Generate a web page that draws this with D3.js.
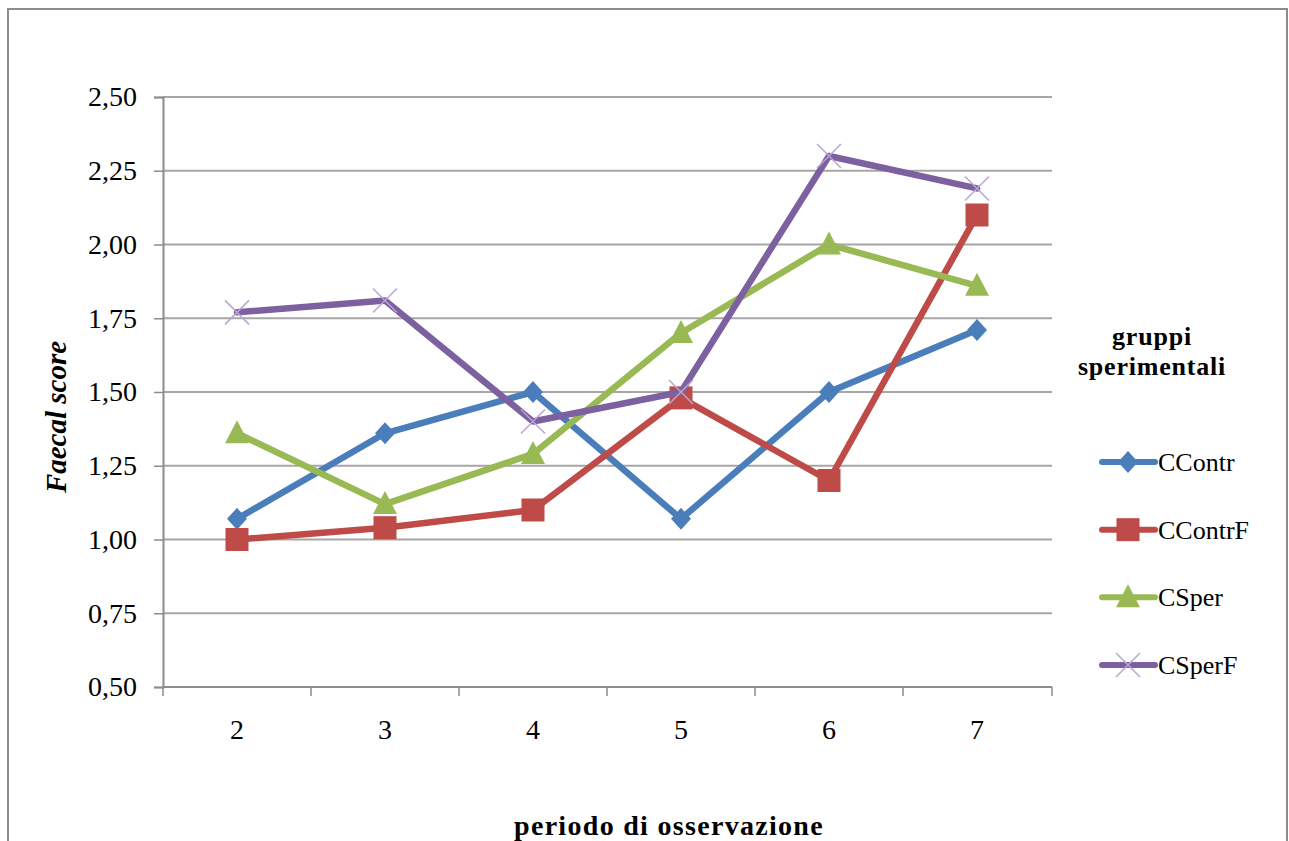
<!DOCTYPE html>
<html>
<head>
<meta charset="utf-8">
<script src="https://cdn.jsdelivr.net/npm/d3@7"></script>
<style>
  html, body { margin: 0; padding: 0; background: #fff; }
  svg { display: block; }
  text { font-family: "Liberation Serif", "DejaVu Serif", serif; fill: #000; }
</style>
</head>
<body>
<svg id="chart" width="1289" height="841"></svg>
<script>
// Observation periods
const periods = ["2", "3", "4", "5", "6", "7"];

// Faecal score per experimental group
const cContr  = [1.07, 1.36, 1.50, 1.07, 1.50, 1.71];
const cContrF = [1.00, 1.04, 1.10, 1.48, 1.20, 2.10];
const cSper   = [1.36, 1.12, 1.29, 1.70, 2.00, 1.86];
const cSperF  = [1.77, 1.81, 1.40, 1.50, 2.30, 2.19];

const seriesNames = ["CContr", "CContrF", "CSper", "CSperF"];
const yTicks = [0.50, 0.75, 1.00, 1.25, 1.50, 1.75, 2.00, 2.25, 2.50];

const series = [
  { name: seriesNames[0], values: cContr,  color: "#4A7EBB", marker: "diamond" },
  { name: seriesNames[1], values: cContrF, color: "#BE4B48", marker: "square" },
  { name: seriesNames[2], values: cSper,   color: "#98B954", marker: "triangle" },
  { name: seriesNames[3], values: cSperF,  color: "#7D60A0", marker: "cross" }
];

const svg = d3.select("#chart");
const plot = { left: 163, right: 1051, top: 97, bottom: 687 };

// Outer chart frame
svg.append("rect")
  .attr("x", 8).attr("y", 9).attr("width", 1279).attr("height", 860)
  .attr("fill", "none").attr("stroke", "#8c8c8c").attr("stroke-width", 2);

const x = d3.scaleBand().domain(periods).range([plot.left, plot.right]).padding(0);
const y = d3.scaleLinear().domain([0.5, 2.5]).range([plot.bottom, plot.top]);
const cx = p => x(p) + x.bandwidth() / 2;

const itLocale = d3.formatLocale({ decimal: ",", thousands: ".", grouping: [3], currency: ["€", ""] });
const fmt = itLocale.format(".2f");

// Horizontal gridlines
svg.append("g").selectAll("line")
  .data(yTicks.filter(t => t > 0.5))
  .join("line")
  .attr("x1", plot.left).attr("x2", plot.right + 1)
  .attr("y1", d => y(d)).attr("y2", d => y(d))
  .attr("stroke", "#a6a6a6").attr("stroke-width", 2);

// Y axis
const yAxis = svg.append("g")
  .attr("transform", `translate(${plot.left},0)`)
  .call(d3.axisLeft(y).tickValues(yTicks).tickFormat(fmt).tickSize(9).tickPadding(17));
yAxis.select(".domain").attr("stroke", "#8c8c8c").attr("stroke-width", 2);
yAxis.selectAll(".tick line").attr("stroke", "#8c8c8c").attr("stroke-width", 1.5);
yAxis.selectAll(".tick text")
  .attr("font-size", 28).attr("fill", "#000");

// X axis: line, boundary ticks, centred labels
const xAxis = svg.append("g")
  .attr("transform", `translate(0,${plot.bottom})`)
  .call(d3.axisBottom(x).tickSize(0).tickPadding(32));
xAxis.select(".domain").attr("stroke", "#8c8c8c").attr("stroke-width", 2)
  .attr("d", `M${plot.left},0H${plot.right + 1}`);
xAxis.selectAll(".tick text")
  .attr("font-size", 28).attr("fill", "#000");
const bounds = periods.map(p => x(p)).concat([plot.right + 1]);
xAxis.append("g").selectAll("line")
  .data(bounds)
  .join("line")
  .attr("x1", d => d).attr("x2", d => d)
  .attr("y1", 0).attr("y2", 9)
  .attr("stroke", "#8c8c8c").attr("stroke-width", 1.5);

// Marker drawing
function drawMarker(g, type, color, px, py) {
  if (type === "diamond") {
    g.append("path")
      .attr("d", `M${px},${py - 11}L${px + 10},${py}L${px},${py + 11}L${px - 10},${py}Z`)
      .attr("fill", color);
  } else if (type === "square") {
    g.append("rect")
      .attr("x", px - 11.5).attr("y", py - 11.5).attr("width", 23).attr("height", 23)
      .attr("fill", color);
  } else if (type === "triangle") {
    g.append("path")
      .attr("d", `M${px},${py - 13}L${px + 12},${py + 10}L${px - 12},${py + 10}Z`)
      .attr("fill", color);
  } else if (type === "cross") {
    g.append("path")
      .attr("d", `M${px - 12},${py - 12}L${px + 12},${py + 12}M${px + 12},${py - 12}L${px - 12},${py + 12}`)
      .attr("stroke", "#b7a6d3").attr("stroke-width", 1.5).attr("fill", "none");
  }
}

const line = d3.line().x((d, i) => cx(periods[i])).y(d => y(d));

// Series lines with markers
series.forEach(s => {
  const g = svg.append("g");
  g.append("path")
    .attr("d", line(s.values))
    .attr("fill", "none").attr("stroke", s.color)
    .attr("stroke-width", 6.5).attr("stroke-linejoin", "round").attr("stroke-linecap", "round");
  s.values.forEach((v, i) => drawMarker(g, s.marker, s.color, cx(periods[i]), y(v)));
});

// Legend
const legend = svg.append("g");
legend.append("text").attr("x", 1152).attr("y", 345).attr("text-anchor", "middle")
  .attr("font-size", 26).attr("font-weight", "bold").attr("letter-spacing", 0.8).text("gruppi");
legend.append("text").attr("x", 1152).attr("y", 375).attr("text-anchor", "middle")
  .attr("font-size", 26).attr("font-weight", "bold").attr("letter-spacing", 0.8).text("sperimentali");

const legendY = d3.scalePoint().domain(seriesNames).range([462, 665]);
series.forEach(s => {
  const ly = legendY(s.name);
  const g = legend.append("g");
  g.append("line").attr("x1", 1102).attr("x2", 1155).attr("y1", ly).attr("y2", ly)
    .attr("stroke", s.color).attr("stroke-width", 6).attr("stroke-linecap", "round");
  drawMarker(g, s.marker, s.color, 1128, ly);
  g.append("text").attr("x", 1158).attr("y", ly + 9).attr("font-size", 26).text(s.name);
});

// Axis titles
svg.append("text")
  .attr("transform", "translate(66,417) rotate(-90)")
  .attr("text-anchor", "middle").attr("font-size", 29)
  .attr("font-weight", "bold").attr("font-style", "italic")
  .text("Faecal score");

svg.append("text")
  .attr("x", 669).attr("y", 835).attr("text-anchor", "middle")
  .attr("font-size", 28).attr("font-weight", "bold").attr("letter-spacing", 1.3)
  .text("periodo di osservazione");
</script>
</body>
</html>
